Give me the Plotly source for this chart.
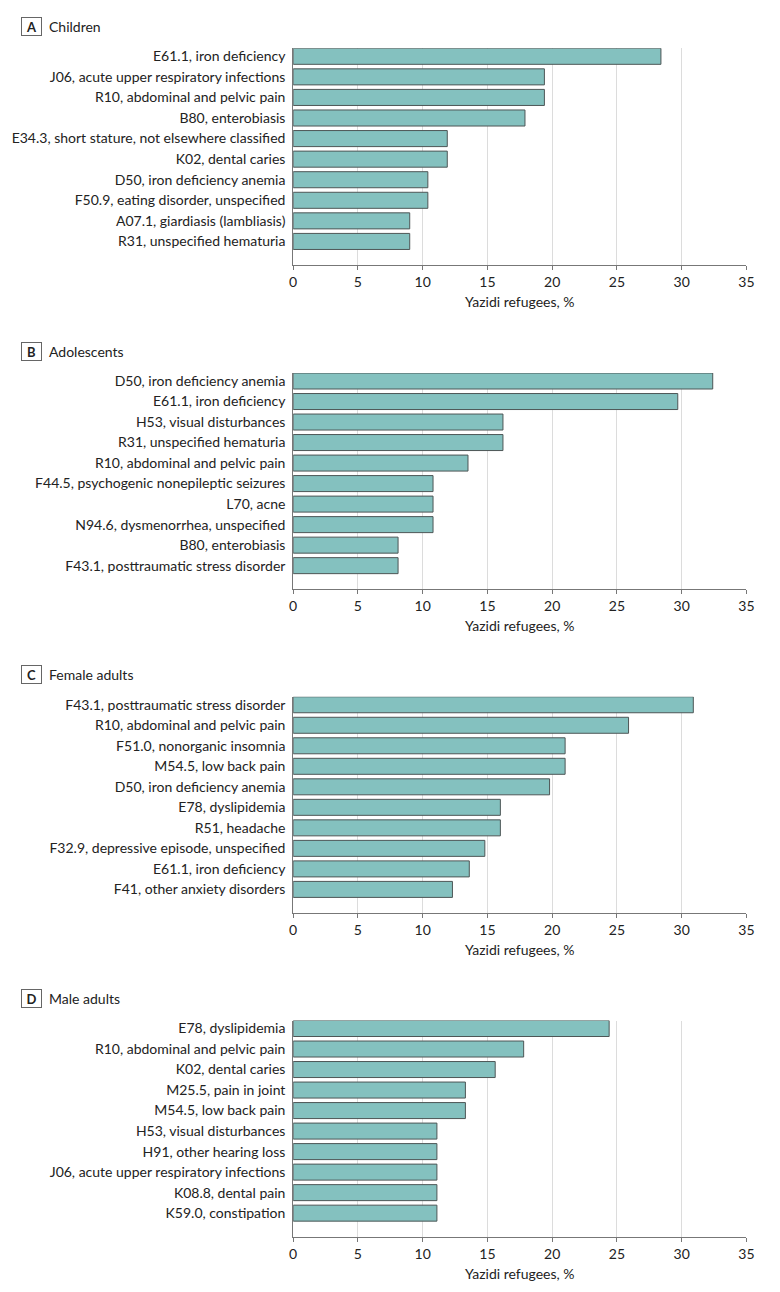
import plotly.graph_objects as go

W, H = 780, 1292

panel_letters = ["A", "B", "C", "D"]
panel_titles = ["Children", "Adolescents", "Female adults", "Male adults"]

children_labels = [
    "E61.1, iron deficiency",
    "J06, acute upper respiratory infections",
    "R10, abdominal and pelvic pain",
    "B80, enterobiasis",
    "E34.3, short stature, not elsewhere classified",
    "K02, dental caries",
    "D50, iron deficiency anemia",
    "F50.9, eating disorder, unspecified",
    "A07.1, giardiasis (lambliasis)",
    "R31, unspecified hematuria",
]
children_values = [28.4, 19.4, 19.4, 17.9, 11.9, 11.9, 10.4, 10.4, 9.0, 9.0]

adolescent_labels = [
    "D50, iron deficiency anemia",
    "E61.1, iron deficiency",
    "H53, visual disturbances",
    "R31, unspecified hematuria",
    "R10, abdominal and pelvic pain",
    "F44.5, psychogenic nonepileptic seizures",
    "L70, acne",
    "N94.6, dysmenorrhea, unspecified",
    "B80, enterobiasis",
    "F43.1, posttraumatic stress disorder",
]
adolescent_values = [32.4, 29.7, 16.2, 16.2, 13.5, 10.8, 10.8, 10.8, 8.1, 8.1]

female_labels = [
    "F43.1, posttraumatic stress disorder",
    "R10, abdominal and pelvic pain",
    "F51.0, nonorganic insomnia",
    "M54.5, low back pain",
    "D50, iron deficiency anemia",
    "E78, dyslipidemia",
    "R51, headache",
    "F32.9, depressive episode, unspecified",
    "E61.1, iron deficiency",
    "F41, other anxiety disorders",
]
female_values = [30.9, 25.9, 21.0, 21.0, 19.8, 16.0, 16.0, 14.8, 13.6, 12.3]

male_labels = [
    "E78, dyslipidemia",
    "R10, abdominal and pelvic pain",
    "K02, dental caries",
    "M25.5, pain in joint",
    "M54.5, low back pain",
    "H53, visual disturbances",
    "H91, other hearing loss",
    "J06, acute upper respiratory infections",
    "K08.8, dental pain",
    "K59.0, constipation",
]
male_values = [24.4, 17.8, 15.6, 13.3, 13.3, 11.1, 11.1, 11.1, 11.1, 11.1]

x_ticks = [0, 5, 10, 15, 20, 25, 30, 35]
x_title = "Yazidi refugees, %"

panels = [
    (children_labels, children_values),
    (adolescent_labels, adolescent_values),
    (female_labels, female_values),
    (male_labels, male_values),
]

FONT = "Lato"
TXT = "#222222"
BAR_FILL = "#84c1bf"
BAR_LINE = "#4d5656"
GRID = "#dcdcdc"
AXIS = "#777777"

# page-pixel geometry of each panel plot area (top, bottom)
tops = [47.3, 372.3, 696.3, 1020.3]
bottoms = [264.3, 588.7, 912.7, 1236.7]
x_left, x_right = 293.7, 754.0


def px_x(v):
    return v / W


def px_y(v):
    return 1 - v / H


fig = go.Figure()
layout = dict(
    width=W, height=H,
    margin=dict(l=0, r=0, t=0, b=0),
    paper_bgcolor="white", plot_bgcolor="white",
    showlegend=False,
    font=dict(family=FONT, size=14, color=TXT),
)
annotations = []

for i, (labels, values) in enumerate(panels):
    n = i + 1
    xa = "x" if n == 1 else f"x{n}"
    ya = "y" if n == 1 else f"y{n}"
    fig.add_trace(go.Bar(
        x=values, y=labels, orientation="h",
        xaxis=xa, yaxis=ya,
        marker=dict(color=BAR_FILL, line=dict(color=BAR_LINE, width=1)),
        width=0.78,
        hoverinfo="x+y",
    ))
    xkey = "xaxis" if n == 1 else f"xaxis{n}"
    ykey = "yaxis" if n == 1 else f"yaxis{n}"
    layout[xkey] = dict(
        domain=[px_x(x_left), px_x(x_right)],
        anchor=ya,
        range=[0, 35],
        tickvals=x_ticks,
        ticktext=[str(t) for t in x_ticks],
        showgrid=True, gridcolor=GRID, gridwidth=1,
        zeroline=False,
        showline=True, linecolor=AXIS, linewidth=1,
        ticks="outside", ticklen=4, tickcolor=AXIS,
        tickfont=dict(family=FONT, size=14, color=TXT),
        title=dict(text=x_title, font=dict(family=FONT, size=14, color=TXT), standoff=8),
        fixedrange=True,
    )
    layout[ykey] = dict(
        domain=[px_y(bottoms[i]), px_y(tops[i])],
        anchor=xa,
        type="category",
        categoryorder="array",
        categoryarray=labels,
        range=[10.15, -0.39],
        showgrid=False, zeroline=False,
        showline=True, linecolor=AXIS, linewidth=1,
        ticks="",
        ticklabelstandoff=4,
        tickfont=dict(family=FONT, size=14, color=TXT),
        fixedrange=True,
    )
    ycenter = px_y(tops[i] - 22)
    annotations.append(dict(
        xref="paper", yref="paper", x=px_x(17), y=ycenter,
        xanchor="left", yanchor="middle",
        text=f"<b>{panel_letters[i]}</b>", showarrow=False,
        font=dict(family=FONT, size=13, color=TXT),
        bordercolor="#666666", borderwidth=1, borderpad=2,
        width=15, height=13,
        bgcolor="white",
    ))
    annotations.append(dict(
        xref="paper", yref="paper", x=px_x(44), y=ycenter,
        xanchor="left", yanchor="middle",
        text=panel_titles[i], showarrow=False,
        font=dict(family=FONT, size=14, color=TXT),
    ))

layout["annotations"] = annotations
fig.update_layout(**layout)
fig.write_html(
    "out.html",
    config={"displayModeBar": False},
    post_script="document.body.style.margin='0';document.body.style.overflow='hidden';",
)
